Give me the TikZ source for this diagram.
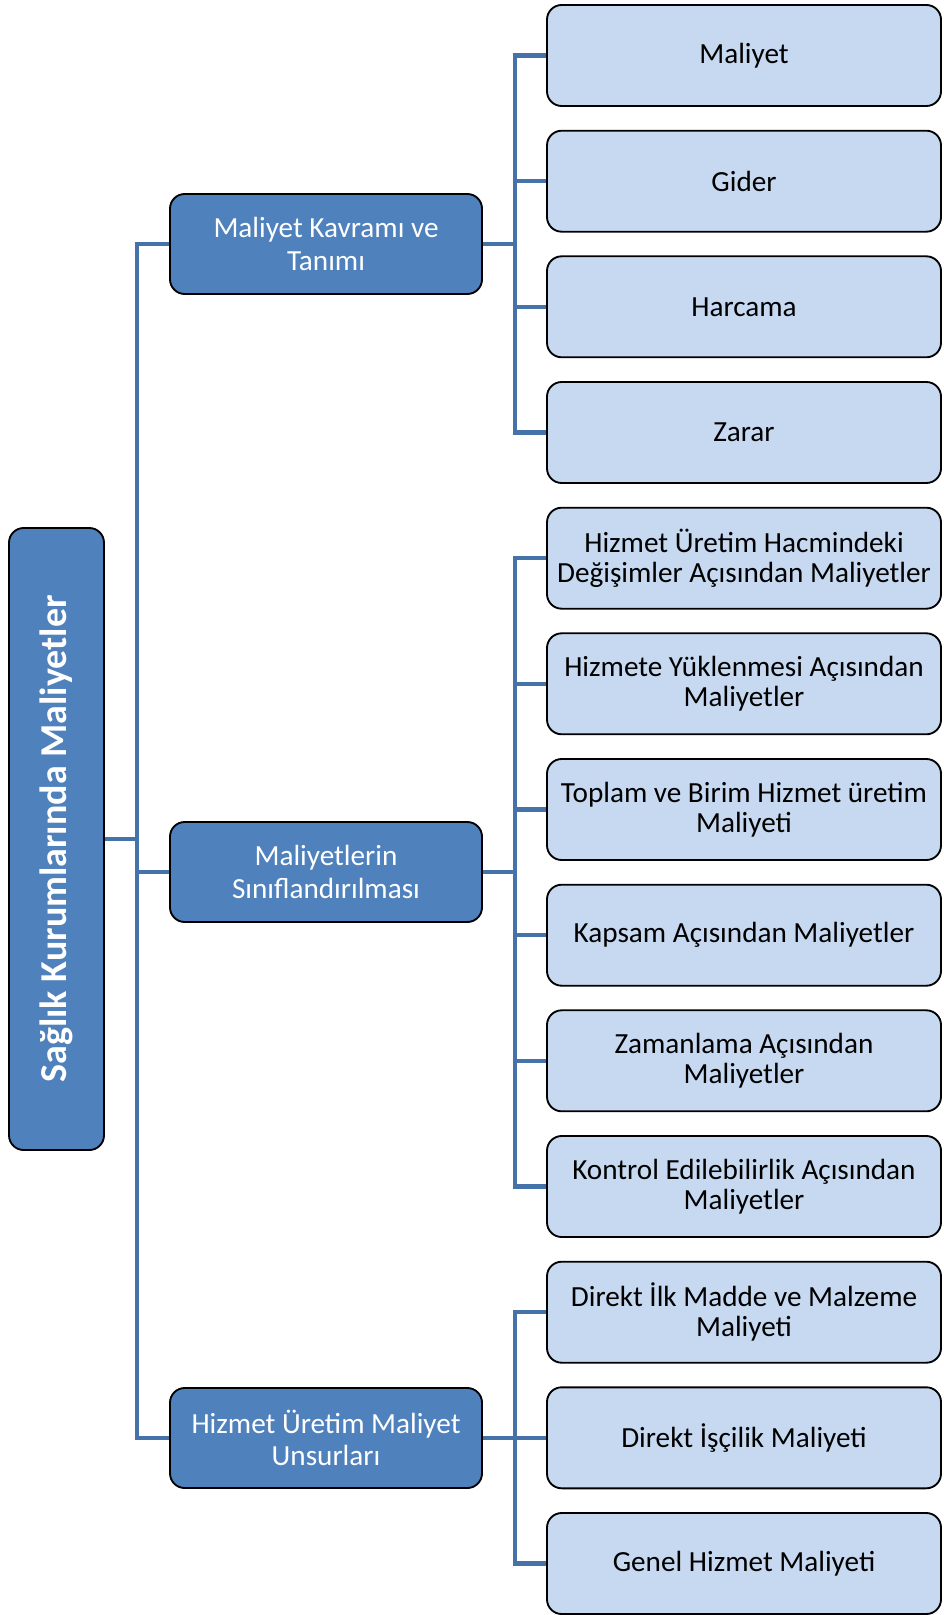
\documentclass[tikz,border=0pt]{standalone}
\usepackage{fontspec}
\setmainfont{Carlito}
\definecolor{darkbox}{HTML}{4F81BD}
\definecolor{lightbox}{HTML}{C6D9F1}
\definecolor{linkc}{HTML}{4672AA}
\begin{document}
\begin{tikzpicture}[x=0.75pt,y=-0.75pt,
  basebox/.style={draw=black,line width=1.4pt,rounded corners=11pt,inner sep=0pt,align=center},
  rootbox/.style={basebox,fill=darkbox,minimum width=71.25pt,minimum height=466.5pt},
  midbox/.style={basebox,fill=darkbox,text=white,minimum width=234pt,minimum height=75pt,font=\fontsize{21.9}{24.5}\selectfont},
  leafbox/.style={basebox,fill=lightbox,text=black,minimum width=295.5pt,minimum height=75.75pt,font=\fontsize{21.9}{22.5}\selectfont},
  link/.style={draw=linkc,line width=3.2pt}]
\useasboundingbox (0,0) rectangle (943,1615);
% root
\node[rootbox] (root) at (56.5,839) {};
\node[rotate=90,text=white,font=\fontsize{28.5}{30}\selectfont\bfseries] (roottext) at (root.center) {Sağlık Kurumlarında Maliyetler};
% level 1
\node[midbox] (m1) at (326,244) {Maliyet Kavramı ve\\Tanımı};
\node[midbox] (m2) at (326,872) {Maliyetlerin\\Sınıflandırılması};
\node[midbox] (m3) at (326,1438) {Hizmet Üretim Maliyet\\Unsurları};
% level 2
\node[leafbox] (a1) at (744,55.5) {Maliyet};
\node[leafbox] (a2) at (744,181.2) {Gider};
\node[leafbox] (a3) at (744,306.8) {Harcama};
\node[leafbox] (a4) at (744,432.5) {Zarar};
\node[leafbox] (b1) at (744,558.2) {Hizmet Üretim Hacmindeki\\Değişimler Açısından Maliyetler};
\node[leafbox] (b2) at (744,683.8) {Hizmete Yüklenmesi Açısından\\Maliyetler};
\node[leafbox] (b3) at (744,809.5) {Toplam ve Birim Hizmet üretim\\Maliyeti};
\node[leafbox] (b4) at (744,935.2) {Kapsam Açısından Maliyetler};
\node[leafbox] (b5) at (744,1060.8) {Zamanlama Açısından\\Maliyetler};
\node[leafbox] (b6) at (744,1186.5) {Kontrol Edilebilirlik Açısından\\Maliyetler};
\node[leafbox] (c1) at (744,1312.2) {Direkt İlk Madde ve Malzeme\\Maliyeti};
\node[leafbox] (c2) at (744,1437.8) {Direkt İşçilik Maliyeti};
\node[leafbox] (c3) at (744,1563.5) {Genel Hizmet Maliyeti};
% connector columns
\coordinate (tk) at (137,0);
\coordinate (g) at (515,0);
\draw[link] (root.east) -- (root.east -| tk);
\foreach \n in {m1,m2,m3} \draw[link] (\n.west) -| (tk |- root.east);
\draw[link] (m1.east) -- (m1.east -| g);
\draw[link] (m2.east) -- (m2.east -| g);
\draw[link] (m3.east) -- (m3.east -| g);
\foreach \n in {a1,a2,a3,a4} \draw[link] (\n.west) -| (g |- m1.east);
\foreach \n in {b1,b2,b3,b4,b5,b6} \draw[link] (\n.west) -| (g |- m2.east);
\foreach \n in {c1,c2,c3} \draw[link] (\n.west) -| (g |- m3.east);
\end{tikzpicture}
\end{document}
